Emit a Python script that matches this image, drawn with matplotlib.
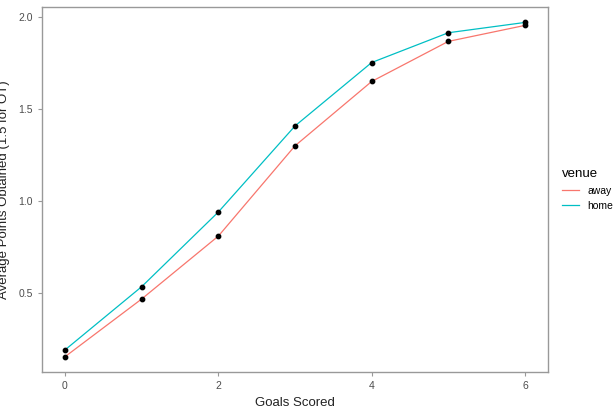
import matplotlib
matplotlib.use("Agg")
import matplotlib.pyplot as plt
plt.rcParams['font.family'] = ['Liberation Sans', 'DejaVu Sans']

goals = [0, 1, 2, 3, 4, 5, 6]
away = [0.153, 0.467, 0.809, 1.300, 1.650, 1.868, 1.955]
home = [0.190, 0.534, 0.940, 1.408, 1.753, 1.915, 1.971]
yticks = [0.5, 1.0, 1.5, 2.0]
xticks = [0, 2, 4, 6]

fig = plt.figure(figsize=(6.15, 4.09), dpi=100)
ax = fig.add_axes([42/615, 37/409, 506/615, 365/409])
ax.plot(goals, away, color="#F8766D", lw=0.9, label="away")
ax.plot(goals, home, color="#00BFC4", lw=0.9, label="home")
ax.scatter(goals, away, color="black", s=10, zorder=3)
ax.scatter(goals, home, color="black", s=10, zorder=3)
ax.set_xlim(-0.3, 6.3)
ax.set_ylim(0.07, 2.055)
ax.set_xticks(xticks)
ax.set_yticks(yticks)
ax.set_yticklabels([f"{v:.1f}" for v in yticks])
for s in ax.spines.values():
    s.set_color("#999999")
    s.set_linewidth(1.0)
ax.tick_params(colors="#999999", labelcolor="#4d4d4d", labelsize=7.5, length=3)
ax.set_xlabel("Goals Scored", fontsize=9.5, color="#222222")
ax.set_ylabel("Average Points Obtained (1.5 for OT)", fontsize=9.5, color="#222222", labelpad=6)
leg = ax.legend(title="venue", loc="center left", bbox_to_anchor=(1.01, 0.5),
                frameon=False, fontsize=7.5, title_fontsize=9.5, handlelength=1.6,
                alignment="left")
fig.savefig("out.png", dpi=100)
